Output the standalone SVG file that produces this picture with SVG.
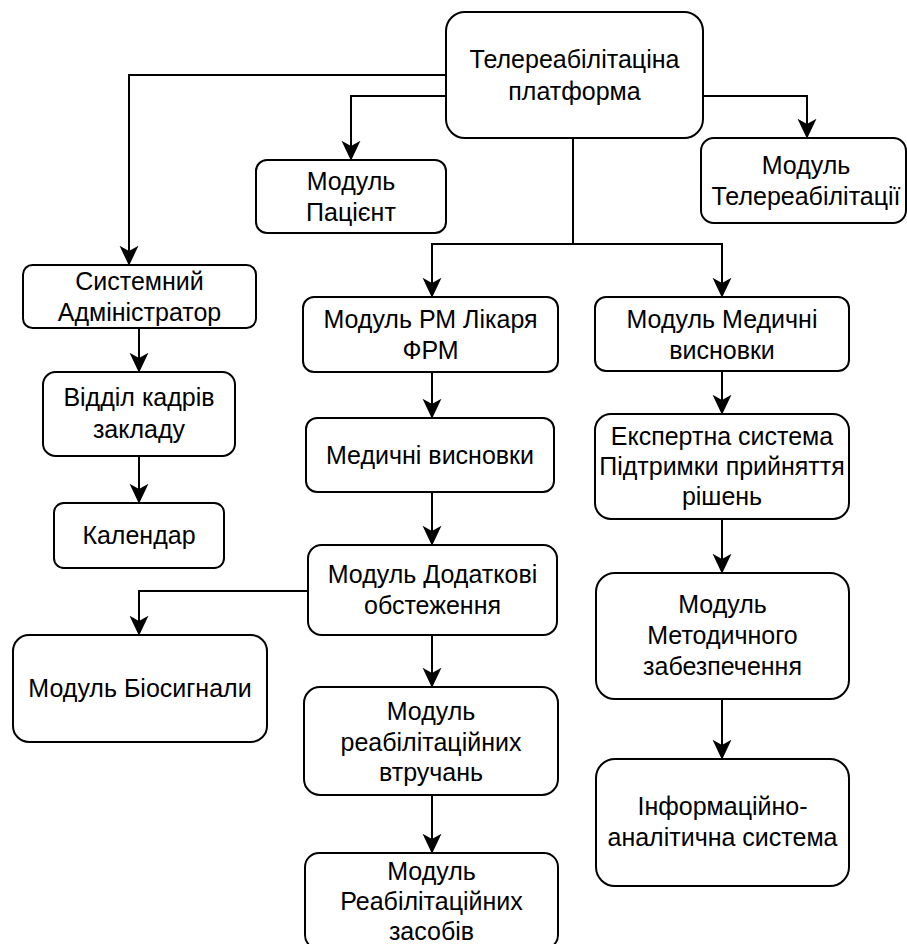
<svg xmlns="http://www.w3.org/2000/svg" width="907" height="944" viewBox="0 0 907 944">
<style>
.box{fill:#fff;stroke:#000;stroke-width:2}
.t{font-family:"Liberation Sans",Arial,sans-serif;font-size:25px;fill:#000;text-anchor:middle}
.c{fill:none;stroke:#000;stroke-width:2}
</style>
<defs>
<marker id="arr" markerUnits="userSpaceOnUse" markerWidth="20" markerHeight="20" viewBox="0 0 19 18" refX="5" refY="9" orient="auto">
<path d="M19,9 L0,0 L5,9 L0,18 Z" fill="#000"/>
</marker>
</defs>
<rect width="907" height="944" fill="#fff"/>
<g id="connectors">
<path class="c" d="M446,75 H129 V251" marker-end="url(#arr)"/>
<path class="c" d="M446,96 H351 V146" marker-end="url(#arr)"/>
<path class="c" d="M703,96 H807 V124" marker-end="url(#arr)"/>
<path class="c" d="M573,138 V244"/>
<path class="c" d="M573,244 H432 V283" marker-end="url(#arr)"/>
<path class="c" d="M573,244 H722 V283" marker-end="url(#arr)"/>
<path class="c" d="M139,328 V358" marker-end="url(#arr)"/>
<path class="c" d="M139,456 V489" marker-end="url(#arr)"/>
<path class="c" d="M432,372 V404" marker-end="url(#arr)"/>
<path class="c" d="M432,492 V531" marker-end="url(#arr)"/>
<path class="c" d="M308,591 H139 V621" marker-end="url(#arr)"/>
<path class="c" d="M432,635 V673" marker-end="url(#arr)"/>
<path class="c" d="M432,795 V839" marker-end="url(#arr)"/>
<path class="c" d="M722,371 V400" marker-end="url(#arr)"/>
<path class="c" d="M722,519 V559" marker-end="url(#arr)"/>
<path class="c" d="M722,699 V745" marker-end="url(#arr)"/>
</g>
<g id="n-platform">
<rect class="box" x="446" y="12" width="257" height="126" rx="19"/>
<text class="t" x="574.5" y="68">Телереабілітаціна</text>
<text class="t" x="574.5" y="100">платформа</text>
</g>
<g id="n-patient">
<rect class="box" x="256" y="160" width="190" height="73" rx="11"/>
<text class="t" x="351" y="190">Модуль</text>
<text class="t" x="351" y="221">Пацієнт</text>
</g>
<g id="n-telerehab">
<rect class="box" x="701" y="138" width="205" height="85" rx="12.75"/>
<text class="t" x="806" y="174">Модуль</text>
<text class="t" x="806" y="205">Телереабілітації</text>
</g>
<g id="n-sysadmin">
<rect class="box" x="23" y="265" width="233" height="63" rx="9.5"/>
<text class="t" x="139.5" y="290">Системний</text>
<text class="t" x="139.5" y="321">Адміністратор</text>
</g>
<g id="n-hr">
<rect class="box" x="43" y="372" width="192" height="84" rx="12.6"/>
<text class="t" x="139" y="406">Відділ кадрів</text>
<text class="t" x="139" y="438">закладу</text>
</g>
<g id="n-calendar">
<rect class="box" x="54" y="503" width="170" height="65" rx="9.75"/>
<text class="t" x="139" y="544">Календар</text>
</g>
<g id="n-rm">
<rect class="box" x="303" y="297" width="255" height="75" rx="11"/>
<text class="t" x="430.5" y="328">Модуль РМ Лікаря</text>
<text class="t" x="430.5" y="359">ФРМ</text>
</g>
<g id="n-medconc">
<rect class="box" x="306" y="418" width="248" height="74" rx="11"/>
<text class="t" x="430" y="464">Медичні висновки</text>
</g>
<g id="n-addexam">
<rect class="box" x="308" y="545" width="249" height="90" rx="13.5"/>
<text class="t" x="432.5" y="583">Модуль Додаткові</text>
<text class="t" x="432.5" y="614">обстеження</text>
</g>
<g id="n-biosignals">
<rect class="box" x="13" y="635" width="254" height="107" rx="16"/>
<text class="t" x="140" y="697">Модуль Біосигнали</text>
</g>
<g id="n-interventions">
<rect class="box" x="304" y="687" width="254" height="108" rx="16"/>
<text class="t" x="431" y="720">Модуль</text>
<text class="t" x="431" y="751">реабілітаційних</text>
<text class="t" x="431" y="781">втручань</text>
</g>
<g id="n-means">
<rect class="box" x="305" y="853" width="253" height="96" rx="14"/>
<text class="t" x="431.5" y="880">Модуль</text>
<text class="t" x="431.5" y="910">Реабілітаційних</text>
<text class="t" x="431.5" y="940">засобів</text>
</g>
<g id="n-medmodule">
<rect class="box" x="595" y="297" width="254" height="74" rx="11"/>
<text class="t" x="722" y="328">Модуль Медичні</text>
<text class="t" x="722" y="359">висновки</text>
</g>
<g id="n-expert">
<rect class="box" x="595" y="414" width="254" height="105" rx="16"/>
<text class="t" x="722" y="445">Експертна система</text>
<text class="t" x="722" y="475">Підтримки прийняття</text>
<text class="t" x="722" y="505">рішень</text>
</g>
<g id="n-method">
<rect class="box" x="596" y="573" width="253" height="126" rx="19"/>
<text class="t" x="722.5" y="613">Модуль</text>
<text class="t" x="722.5" y="644">Методичного</text>
<text class="t" x="722.5" y="675">забезпечення</text>
</g>
<g id="n-info">
<rect class="box" x="596" y="759" width="253" height="127" rx="19"/>
<text class="t" x="722.5" y="815">Інформаційно-</text>
<text class="t" x="722.5" y="846">аналітична система</text>
</g>
</svg>
